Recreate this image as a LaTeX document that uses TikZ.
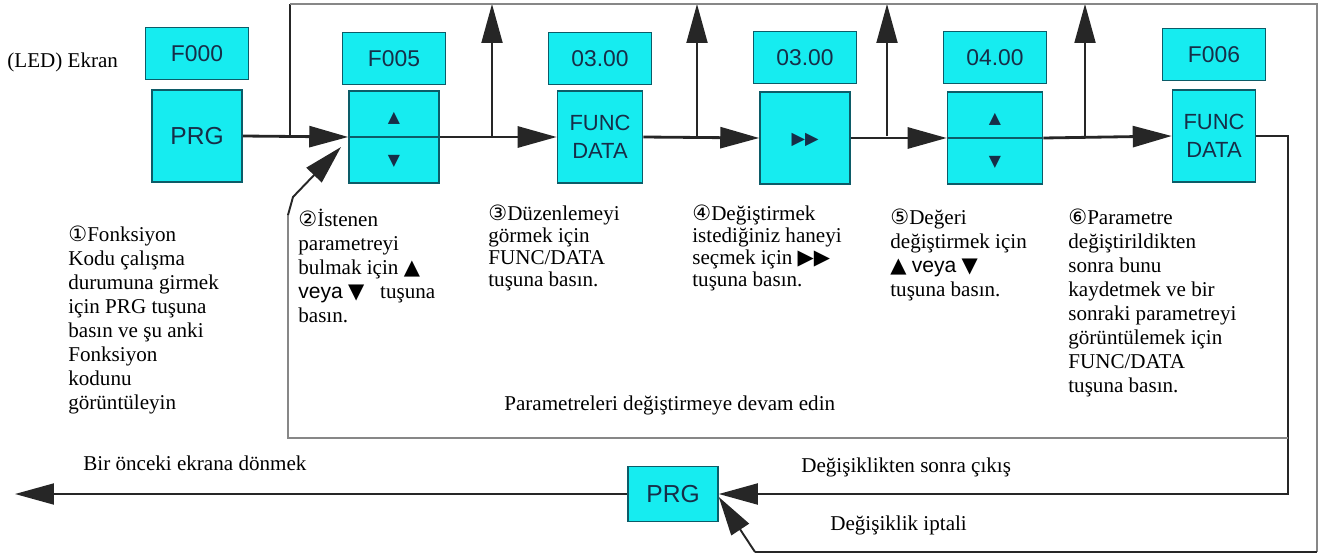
\documentclass[tikz,border=0pt]{standalone}
\usepackage{fontspec}
\setmainfont{Liberation Serif}
\setsansfont{Liberation Sans}
\newfontfamily\symfont{DejaVu Sans}
\usetikzlibrary{positioning,arrows.meta}
\definecolor{keyfill}{RGB}{22,236,240}
\definecolor{keyedge}{RGB}{12,92,104}
\definecolor{keytext}{RGB}{22,46,72}
\definecolor{framegray}{RGB}{135,135,135}
\newcommand{\uptri}{{\symfont ▲}}
\newcommand{\dntri}{{\symfont ▼}}
\newcommand{\fwdtri}{{\symfont ▶▶}}
\newcommand{\circnum}[1]{{\symfont #1}}

\begin{document}
\begin{tikzpicture}[x=0.02cm, y=-0.02cm,
  disp/.style={draw=keyedge, fill=keyfill, line width=0.9pt, minimum width=2.06cm,
    minimum height=1.04cm, inner sep=0pt, text=keytext, font=\sffamily\fontsize{13}{15}\selectfont},
  key/.style={draw=keyedge, fill=keyfill, line width=0.9pt, minimum width=1.8cm,
    minimum height=1.84cm, inner sep=0pt, align=center, text=keytext,
    font=\sffamily\fontsize{14}{17}\selectfont},
  funckey/.style={key, font=\sffamily\fontsize{12.5}{16}\selectfont},
  arrowkey/.style={text=keytext, inner sep=0pt, font=\symfont\fontsize{9}{9}\selectfont},
  flow/.style={draw=black!85, line width=1.6pt},
  riser/.style={draw=black!85, line width=1.1pt},
  frame/.style={draw=framegray, line width=1.4pt},
  head/.style={-{Triangle[length=0.78cm,width=0.42cm]}},
  lbl/.style={anchor=west, inner sep=0pt, font=\fontsize{12}{13.6}\selectfont},
  note/.style={anchor=north west, align=left, inner sep=0pt, font=\fontsize{12}{13.6}\selectfont},
  notetight/.style={note, font=\fontsize{12}{12.5}\selectfont}
]
\useasboundingbox (0,0) rectangle (1334,554);

\node[lbl] (led) at (7,62) {(LED) Ekran};

\node[key] (k1) at (197,136) {PRG};
\node[disp, above=0.18cm of k1] (d1) {F000};
\node[key] (k2) at (394,137) {};
\node[disp, above=0.1cm of k2] (d2) {F005};
\node[funckey, minimum width=1.7cm] (k3) at (600,137) {FUNC\\DATA};
\node[disp, above=0.1cm of k3] (d3) {03.00};
\node[key] (k4) at (805,138) {};
\node[disp, above=0.14cm of k4] (d4) {03.00};
\node[key, minimum width=1.9cm] (k5) at (995,138) {};
\node[disp, above=0.14cm of k5] (d5) {04.00};
\node[funckey, minimum width=1.66cm] (k6) at (1214,136) {FUNC\\DATA};
\node[disp, above=0.16cm of k6] (d6) {F006};
\node[key, minimum width=1.8cm, minimum height=1.1cm] (kp) at (673,494) {PRG};

\draw[keyedge, line width=0.9pt] (k2.west) -- (k2.east);
\draw[keyedge, line width=0.9pt] (k5.west) -- (k5.east);
\node[arrowkey] (k2u) at ([yshift=0.38cm]k2.center) {▲};
\node[arrowkey] (k2d) at ([yshift=-0.48cm]k2.center) {▼};
\node[arrowkey] (k5u) at ([yshift=0.38cm]k5.center) {▲};
\node[arrowkey] (k5d) at ([yshift=-0.48cm]k5.center) {▼};
\node[arrowkey, font=\symfont\fontsize{10}{10}\selectfont] (k4f) at ([yshift=-0.04cm]k4.center) {▶▶};

\coordinate (j0) at (290,136);
\coordinate (j1) at (492,136);
\coordinate (j2) at (697,136);
\coordinate (j3) at (887,136);
\coordinate (j4) at (1085,136);
\coordinate (top) at (290,4);
\coordinate (topr) at (1317,4);
\coordinate (botr) at (1317,552);
\coordinate (botl) at (755,552);
\coordinate (r1) at (1288,136);
\coordinate (f1) at (1288,438);
\coordinate (f2) at (288,438);
\coordinate (f3) at (288,215);
\coordinate (f4) at (293,197);
\coordinate (f5) at (341,147);
\coordinate (outl) at (15,494);

\draw[flow, head] (k1.east) -- (k2.west);
\draw[flow, head] (k2.east) -- (k3.west);
\draw[flow, head] (k3.east) -- (k4.west);
\draw[flow, head] (k4.east) -- (k5.west);
\draw[flow, head] (k5.east) -- (k6.west);

\draw[riser] (j0) -- (top);
\foreach \j in {j1,j2,j3,j4}
  \draw[riser, head] (\j) -- (\j |- top);
\draw[frame] (top) -- (topr) -- (botr);
\draw[riser] (botr) -- (botl);
\draw[riser, head] (botl) -- ([yshift=-0.06cm]kp.east);

\draw[riser, head] (k6.east) -- (r1) -- (r1 |- kp.east) -- (kp.east);
\draw[frame] (f1) -- (f2) -- (f3);
\draw[riser, head] (f3) -- (f4) -- (f5);
\draw[riser, head] (kp.west) -- (outl);

\node[note] (n1) at (68,226) {\circnum{①}Fonksiyon\\Kodu çalışma\\durumuna girmek\\için PRG tuşuna\\basın ve şu anki\\Fonksiyon\\kodunu\\görüntüleyin};
\node[note] (n2) at (298,209) {\circnum{②}İstenen\\parametreyi\\bulmak için \uptri\\{\sffamily veya} \dntri\ \ \ tuşuna\\basın.};
\node[notetight] (n3) at (488,205) {\circnum{③}Düzenlemeyi\\görmek için\\FUNC/DATA\\tuşuna basın.};
\node[notetight] (n4) at (692,205) {\circnum{④}Değiştirmek\\istediğiniz haneyi\\seçmek için \fwdtri\\tuşuna basın.};
\node[note] (n5) at (890,209) {\circnum{⑤}Değeri\\değiştirmek için\\\uptri\ {\sffamily veya} \dntri\\tuşuna basın.};
\node[note] (n6) at (1068,209) {\circnum{⑥}Parametre\\değiştirildikten\\sonra bunu\\kaydetmek ve bir\\sonraki parametreyi\\görüntülemek için\\FUNC/DATA\\tuşuna basın.};

\node[lbl] (cont) at (504,405) {Parametreleri değiştirmeye devam edin};
\node[lbl] (back) at (83,463) {Bir önceki ekrana dönmek};
\node[lbl] (exitlbl) at (801,467) {Değişiklikten sonra çıkış};
\node[lbl] (cancel) at (830,525) {Değişiklik iptali};
\end{tikzpicture}
\end{document}
